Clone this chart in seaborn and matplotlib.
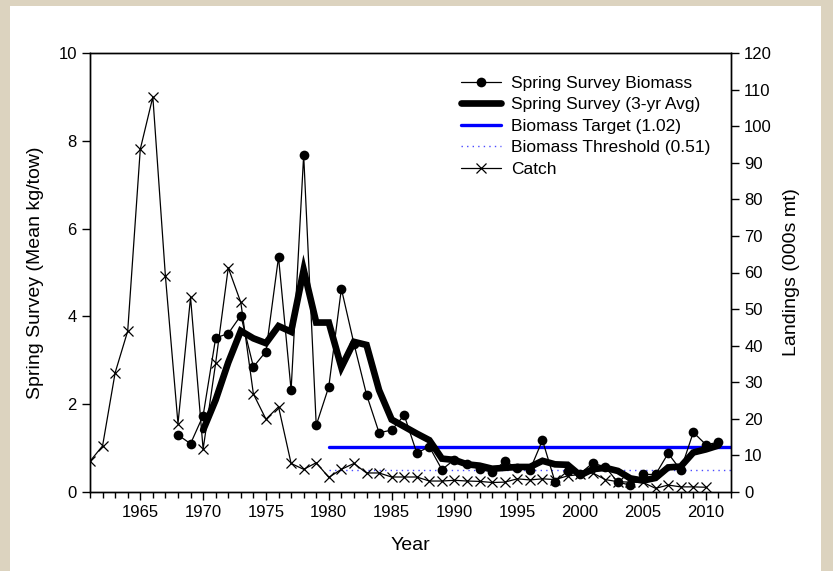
import matplotlib
matplotlib.use('Agg')
import matplotlib.pyplot as plt
from matplotlib.patches import Rectangle
from matplotlib.lines import Line2D
from matplotlib.ticker import MultipleLocator
import seaborn as sns
import pandas as pd

# survey biomass (mean kg/tow), 1968-2011
bio_years = list(range(1968, 2012))
biomass = [1.30, 1.10, 1.74, 3.51, 3.61, 4.02, 2.85, 3.20, 5.35, 2.32,
           7.68, 1.52, 2.40, 4.63, 3.38, 2.22, 1.35, 1.41, 1.75, 0.89,
           1.03, 0.51, 0.74, 0.63, 0.52, 0.45, 0.70, 0.55, 0.50, 1.18,
           0.23, 0.48, 0.42, 0.66, 0.57, 0.22, 0.16, 0.40, 0.40, 0.88,
           0.50, 1.36, 1.08, 1.13]

# 3-yr average, 1970-2011
avg_years = list(range(1970, 2012))
avg3 = [1.41, 2.10, 2.95, 3.67, 3.50, 3.39, 3.78, 3.65, 5.06, 3.86,
        3.86, 2.84, 3.42, 3.35, 2.32, 1.65, 1.49, 1.33, 1.18, 0.76,
        0.73, 0.63, 0.60, 0.53, 0.55, 0.57, 0.57, 0.71, 0.63, 0.62,
        0.38, 0.52, 0.55, 0.48, 0.31, 0.26, 0.32, 0.56, 0.58, 0.90,
        0.97, 1.06]

# landings (000s mt), 1961-2010
catch_years = list(range(1961, 2011))
catch = [8.4, 12.6, 32.6, 44.0, 93.7, 108.0, 59.0, 18.7, 53.2, 11.7,
         35.3, 61.3, 51.8, 26.8, 19.9, 23.3, 7.8, 6.2, 8.0, 4.0,
         6.2, 7.8, 5.2, 5.2, 4.1, 4.1, 4.1, 3.0, 3.0, 3.2,
         3.0, 2.9, 2.6, 2.7, 3.6, 3.3, 3.6, 3.4, 4.4, 4.8,
         5.2, 3.4, 2.8, 2.7, 2.6, 1.0, 1.9, 1.4, 1.4, 1.3]

ref_years = [1980, 2012]
target = 1.02
threshold = 0.51

sns.set_style('ticks')
plt.rcParams['font.family'] = ['Liberation Sans', 'DejaVu Sans']
plt.rcParams['text.color'] = 'black'
plt.rcParams['axes.labelcolor'] = 'black'

fig = plt.figure(figsize=(8.33, 5.71), dpi=100)
fig.patch.set_facecolor('#dcd3bf')
fig.patches.append(Rectangle((10 / 833, 0), 811 / 833, 565 / 571,
                             transform=fig.transFigure, facecolor='white',
                             edgecolor='none', zorder=-10))

ax = fig.add_axes([90 / 833, 1 - 492 / 571, 641 / 833, 439 / 571])
ax.set_facecolor('white')
ax2 = ax.twinx()

df_bio = pd.DataFrame({'year': bio_years, 'val': biomass})
df_avg = pd.DataFrame({'year': avg_years, 'val': avg3})
df_catch = pd.DataFrame({'year': catch_years, 'val': catch})
df_tgt = pd.DataFrame({'year': ref_years, 'val': [target] * 2})
df_thr = pd.DataFrame({'year': ref_years, 'val': [threshold] * 2})

sns.lineplot(data=df_thr, x='year', y='val', ax=ax, color='#4a4aff',
             linestyle=(0, (1, 3)), linewidth=1.0)
sns.lineplot(data=df_tgt, x='year', y='val', ax=ax, color='#0000ff',
             linewidth=2.4)
sns.lineplot(data=df_bio, x='year', y='val', ax=ax, color='black',
             linewidth=0.9, marker='o', markersize=7, markeredgewidth=0)
sns.lineplot(data=df_avg, x='year', y='val', ax=ax, color='black',
             linewidth=4.8, solid_joinstyle='miter')
sns.lineplot(data=df_catch, x='year', y='val', ax=ax2, color='black',
             linewidth=0.9, marker='x', markersize=7, markeredgewidth=0.9,
             markeredgecolor='black')

ax.set_xlim(1961, 2012)
ax.set_ylim(0, 10)
ax2.set_ylim(0, 120)
ax.set_xticks(range(1965, 2011, 5))
ax.xaxis.set_minor_locator(MultipleLocator(1))
ax.set_yticks(range(0, 11, 2))
ax2.set_yticks(range(0, 121, 10))

for a in (ax, ax2):
    for s in a.spines.values():
        s.set_visible(True)
        s.set_linewidth(1.0)
        s.set_color('black')
    a.tick_params(which='major', direction='out', length=6, width=1,
                  labelsize=12, colors='black')
    a.tick_params(which='minor', direction='out', length=4, width=1,
                  colors='black')

ax.set_xlabel('Year', fontsize=14, labelpad=12)
ax.set_ylabel('Spring Survey (Mean kg/tow)', fontsize=14, labelpad=10)
ax2.set_ylabel('Landings (000s mt)', fontsize=14, labelpad=8)

handles = [
    Line2D([], [], color='black', linewidth=0.9, marker='o', markersize=7,
           markeredgewidth=0),
    Line2D([], [], color='black', linewidth=4.8),
    Line2D([], [], color='#0000ff', linewidth=2.4),
    Line2D([], [], color='#4a4aff', linestyle=(0, (1, 3)), linewidth=1.0),
    Line2D([], [], color='black', linewidth=0.9, marker='x', markersize=7,
           markeredgewidth=0.9),
]
labels = ['Spring Survey Biomass', 'Spring Survey (3-yr Avg)',
          'Biomass Target (1.02)', 'Biomass Threshold (0.51)', 'Catch']
ax2.legend(handles, labels, loc='upper left', bbox_to_anchor=(0.579, 0.948),
           frameon=False, fontsize=12.5, handlelength=2.3,
           handletextpad=0.6, labelspacing=0.36, borderpad=0,
           borderaxespad=0)

fig.savefig('out.png', dpi=100, facecolor=fig.get_facecolor())
